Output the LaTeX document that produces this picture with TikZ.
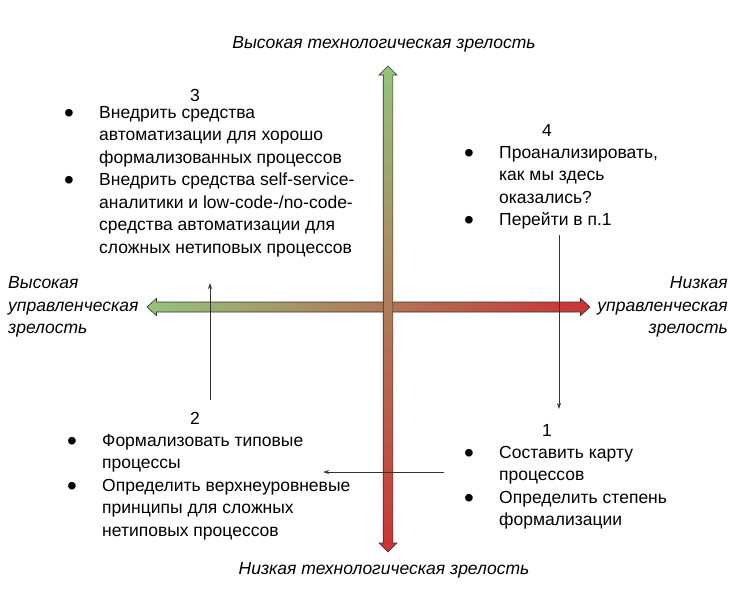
\documentclass[tikz,border=0pt]{standalone}
\usepackage{fontspec}
\setmainfont{Liberation Sans}
\usepackage{graphicx}
\usetikzlibrary{arrows.meta, positioning}
\definecolor{axgreen}{HTML}{93C47D}
\definecolor{axred}{HTML}{CC3333}
\definecolor{axline}{HTML}{333333}
\newcommand{\itm}[1]{\par\hangindent=35pt\hangafter=1\noindent\makebox[35pt][l]{\raisebox{-4.3pt}{\scalebox{1.6}{\textbullet}}}#1}
\newcommand{\blk}[1]{\parbox[t]{320pt}{#1}}

\begin{document}
\begin{tikzpicture}[x=1pt, y=-1pt, font=\fontsize{17.5}{22.5}\selectfont,
    lst/.style={anchor=base west, inner sep=0pt},
    num/.style={inner sep=0pt},
    axis/.style={draw=axline, line width=0.6pt},
    flow/.style={draw=axline, line width=0.8pt, -{Stealth[length=6pt, width=4pt]}}]
    \useasboundingbox (0,0) rectangle (737,603);

    % Axis labels
    \node (top) at (384,44) {\itshape Высокая технологическая зрелость};
    \node (bot) at (384,570) {\itshape Низкая технологическая зрелость};
    \node[align=left, anchor=west, inner sep=0pt] (lft) at (8,307) {\itshape Высокая\\\itshape управленческая\\\itshape зрелость};
    \node[align=right, anchor=east, inner sep=0pt] (rgt) at (728,307) {\itshape Низкая\\\itshape управленческая\\\itshape зрелость};

    % Horizontal axis
    \shadedraw[axis, left color=axgreen, right color=axred]
        (147,307) -- (156.5,298.3) -- (156.5,302) -- (580.5,302) -- (580.5,298.3) -- (590,307)
        -- (580.5,315.7) -- (580.5,312) -- (156.5,312) -- (156.5,315.7) -- cycle;

    % Vertical axis
    \shadedraw[axis, top color=axgreen, bottom color=axred]
        (388,66) -- (397,75) -- (392.8,75) -- (392.8,543) -- (397,543) -- (388,552)
        -- (379,543) -- (383.2,543) -- (383.2,75) -- (379,75) -- cycle;

    % Quadrant 3
    \node[num] (n3) at (195,95) {3};
    \node[lst] (l3) at (64,118) {\blk{%
        \itm{Внедрить средства\\автоматизации для хорошо\\формализованных процессов}
        \itm{Внедрить средства self-service-\\аналитики и low-code-/no-code-\\средства автоматизации для\\сложных нетиповых процессов}}};

    % Quadrant 4
    \node[num] (n4) at (547,130) {4};
    \node[lst] (l4) at (464,158) {\blk{%
        \itm{Проанализировать,\\как мы здесь\\оказались?}
        \itm{Перейти в п.1}}};

    % Quadrant 2
    \node[num] (n2) at (195,418) {2};
    \node[lst] (l2) at (67,446) {\blk{%
        \itm{Формализовать типовые\\процессы}
        \itm{Определить верхнеуровневые\\принципы для сложных\\нетиповых процессов}}};

    % Quadrant 1
    \node[num] (n1) at (547,430) {1};
    \node[lst] (l1) at (464,458) {\blk{%
        \itm{Составить карту\\процессов}
        \itm{Определить степень\\формализации}}};

    % Transitions
    \coordinate (s4) at (559,235);
    \coordinate (e1) at (559,409);
    \coordinate (s1) at (444,472);
    \coordinate (e2) at (323,472);
    \coordinate (s2) at (210,400);
    \coordinate (e3) at (210,283);
    \draw[flow] (s4) -- (e1);
    \draw[flow] (s1) -- (e2);
    \draw[flow] (s2) -- (e3);
\end{tikzpicture}
\end{document}
